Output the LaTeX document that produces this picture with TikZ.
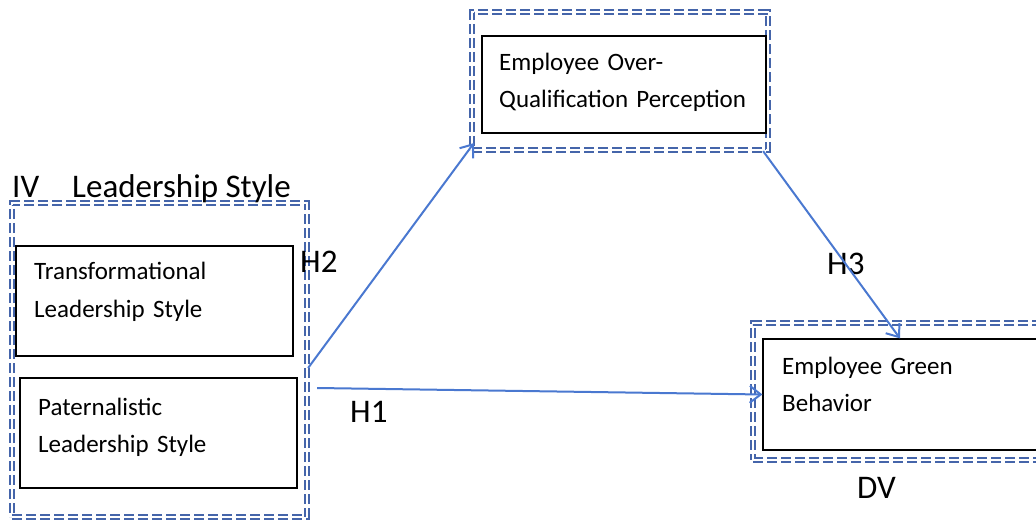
\documentclass[tikz,border=0pt]{standalone}
\usepackage{fontspec}
\setmainfont{Carlito}
\usetikzlibrary{arrows.meta}
\definecolor{rahmenblau}{HTML}{4565AA}
\definecolor{pfeilblau}{HTML}{4A78D0}
\begin{document}
\begin{tikzpicture}[x=1pt,y=1pt,
	rahmen/.style={rectangle,draw=rahmenblau,double=white,double distance=1.6pt,line width=2.2pt,dash pattern=on 10pt off 4pt,inner sep=0pt},
	kasten/.style={rectangle,draw=black,line width=1.2pt,inner sep=0pt},
	kastentext/.style={font=\fontsize{25}{37}\selectfont,align=left,text width=270pt,anchor=base west,inner sep=0pt},
	marke/.style={font=\fontsize{33}{40}\selectfont,anchor=base west,inner sep=0pt},
	pfeil/.style={draw=pfeilblau,line width=2pt,-{Straight Barb[length=11pt,width=17pt]}}]
	\useasboundingbox (0,0) rectangle (1036,520);%Bildgroesse
	\clip (0,0) rectangle (1036,520);%rechter Rand abgeschnitten
	\node[rahmen,minimum width=296pt,minimum height=138pt] (eoqRahmen) at (620,439) {};%Rahmen oben
	\node[kasten,minimum width=284pt,minimum height=97pt] (eoq) at (624,435.5) {};%Kasten oben
	\node[kastentext] (eoqText) at (499,449) {Employee Over-\\Qualification Perception};
	\node[rahmen,minimum width=295pt,minimum height=314pt] (ivRahmen) at (159.5,160) {};%Rahmen links
	\node[kasten,minimum width=277pt,minimum height=110pt] (tls) at (154.5,219) {};%Kasten links oben
	\node[kastentext] (tlsText) at (34,240) {Transformational\\Leadership Style};
	\node[kasten,minimum width=277pt,minimum height=110pt] (pls) at (158.5,87) {};%Kasten links unten
	\node[kastentext] (plsText) at (38,105) {Paternalistic\\Leadership Style};
	\node[rahmen,minimum width=307pt,minimum height=137pt] (dvRahmen) at (906.5,128.5) {};%Rahmen rechts
	\node[kasten,minimum width=297pt,minimum height=111pt] (egb) at (911.5,125.5) {};%Kasten rechts
	\node[kastentext] (egbText) at (782,146) {Employee Green\\Behavior};
	\node[marke] (ivMarke) at (12,322) {IV\quad Leadership Style};
	\node[marke] (dvMarke) at (857,22) {DV};
	\node[marke] (hZwei) at (300,247) {H2};
	\node[marke] (hDrei) at (827,245) {H3};
	\node[marke] (hEins) at (350,98) {H1};
	\draw[pfeil] ([yshift=-8pt]ivRahmen.east) -- ([shift={(3,8)}]eoqRahmen.south west);%Pfeil H2
	\draw[pfeil] ([xshift=-6pt]eoqRahmen.south east) -- ([xshift=-11.5pt]egb.north);%Pfeil H3
	\draw[pfeil] ([shift={(9,-28)}]ivRahmen.east) -- (egb.west);%Pfeil H1
\end{tikzpicture}
\end{document}
